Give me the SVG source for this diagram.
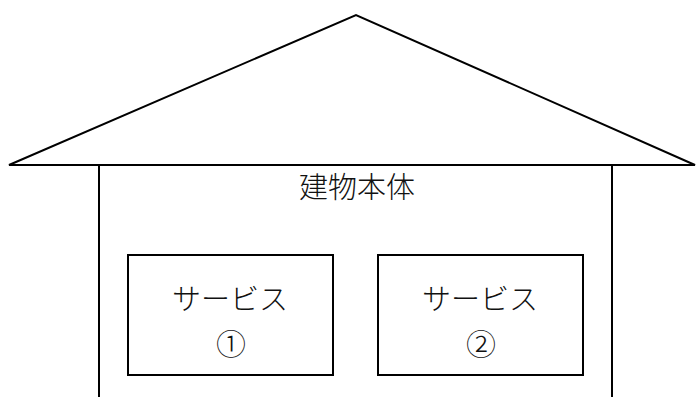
<svg xmlns="http://www.w3.org/2000/svg" width="696" height="397" viewBox="0 0 696 397">
<style>
.ln{fill:none;stroke:#000;stroke-width:2;stroke-linejoin:miter}
.t{font-family:"Noto Sans CJK JP","Noto Sans CJK SC",sans-serif;font-size:29px;fill:#111;text-anchor:middle;font-weight:300}
.n{font-size:30px}
</style>
<rect width="696" height="397" fill="#fff"/>
<g id="building">
<polyline class="ln" points="99,397 99,165 9,165 356,15 695,165 612,165 612,397"/>
<line class="ln" x1="9" y1="165" x2="695" y2="165"/>
<text class="t" x="357" y="198">建物本体</text>
</g>
<g id="service1">
<rect class="ln" x="128" y="255" width="205" height="120"/>
<text class="t" x="230" y="310">サービス</text>
<text class="t n" x="231" y="355">①</text>
</g>
<g id="service2">
<rect class="ln" x="378" y="255" width="205" height="120"/>
<text class="t" x="480" y="310">サービス</text>
<text class="t n" x="481" y="355">②</text>
</g>
<g id="connectors"/>
</svg>
